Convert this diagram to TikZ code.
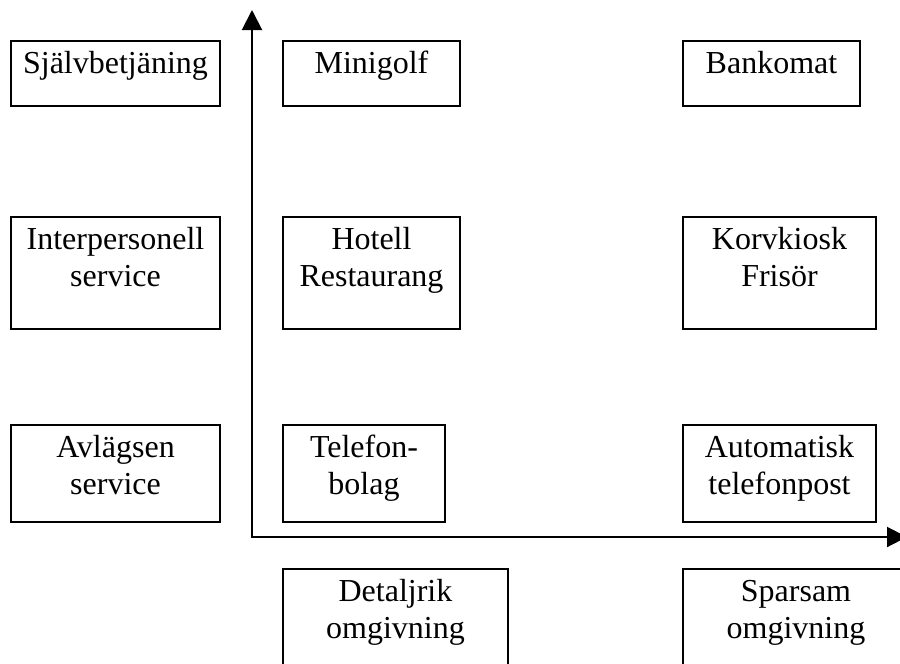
\documentclass[tikz,border=0pt]{standalone}
\usepackage{fontspec}
\setmainfont{Liberation Serif}
\usetikzlibrary{arrows.meta}
\begin{document}
\begin{tikzpicture}[x=1pt,y=-1pt,
  cell/.style={draw, line width=1.7pt, anchor=north west, inner sep=0pt, outer sep=0pt},
  celltext/.style={anchor=north, inner sep=0pt, align=center,
    font=\fontsize{32}{37}\selectfont, yshift=-6.1pt},
  axis/.style={line width=2pt,
    {Triangle[length=20pt,width=20pt]}-{Triangle[length=20pt,width=20pt]}}]
\useasboundingbox (0,0) rectangle (900,664);
\clip (0,0) rectangle (900,664);
\fill[white] (0,0) rectangle (900,664);

% axes
\coordinate (o) at (252,537);
\coordinate (ytip) at (252,10);
\coordinate (xtip) at (907,537);
\draw[axis] (ytip) -- (o) -- (xtip);

% top row
\node[cell, minimum width=209pt, minimum height=65pt] (sj) at (11,41) {};
\node[celltext] (sjt) at (sj.north) {\strut Självbetjäning};
\node[cell, minimum width=177pt, minimum height=65pt] (mg) at (283,41) {};
\node[celltext] (mgt) at (mg.north) {\strut Minigolf};
\node[cell, minimum width=177pt, minimum height=65pt] (bk) at (683,41) {};
\node[celltext] (bkt) at (bk.north) {\strut Bankomat};

% middle row
\node[cell, minimum width=209pt, minimum height=112pt] (ip) at (11,217) {};
\node[celltext] (ipt) at (ip.north) {\strut Interpersonell\\\strut service};
\node[cell, minimum width=177pt, minimum height=112pt] (ho) at (283,217) {};
\node[celltext] (hot) at (ho.north) {\strut Hotell\\\strut Restaurang};
\node[cell, minimum width=193pt, minimum height=112pt] (kk) at (683,217) {};
\node[celltext] (kkt) at (kk.north) {\strut Korvkiosk\\\strut Frisör};

% bottom row
\node[cell, minimum width=209pt, minimum height=97pt] (av) at (11,425) {};
\node[celltext] (avt) at (av.north) {\strut Avlägsen\\\strut service};
\node[cell, minimum width=162pt, minimum height=97pt] (tf) at (283,425) {};
\node[celltext] (tft) at (tf.north) {\strut Telefon-\\\strut bolag};
\node[cell, minimum width=193pt, minimum height=97pt] (at) at (683,425) {};
\node[celltext] (att) at (at.north) {\strut Automatisk\\\strut telefonpost};

% axis labels
\node[cell, minimum width=225pt, minimum height=110pt] (de) at (283,569) {};
\node[celltext] (det) at (de.north) {\strut Detaljrik\\\strut omgivning};
\node[cell, minimum width=226pt, minimum height=110pt] (sp) at (683,569) {};
\node[celltext] (spt) at (sp.north) {\strut Sparsam\\\strut omgivning};
\end{tikzpicture}
\end{document}
